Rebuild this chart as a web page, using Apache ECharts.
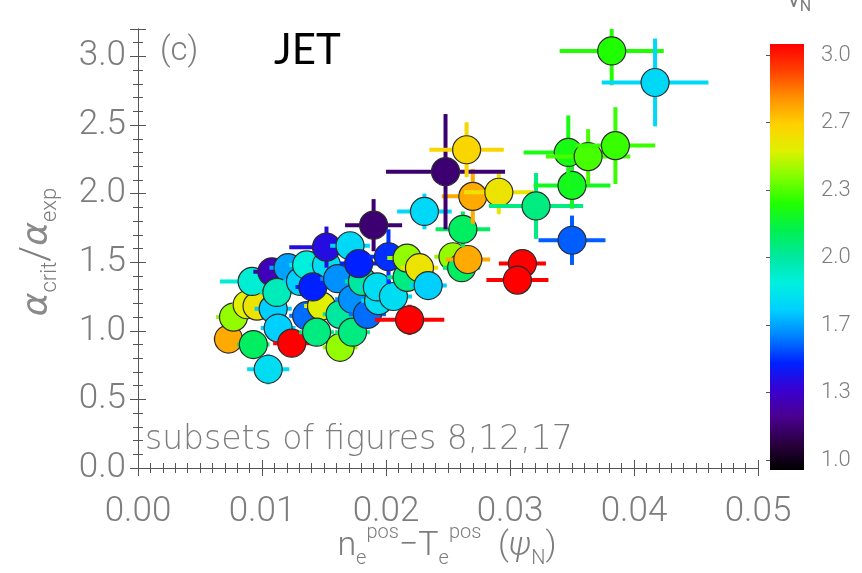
<!DOCTYPE html>
<html>
<head>
<meta charset="utf-8">
<script src="https://cdn.jsdelivr.net/npm/echarts@6/dist/echarts.min.js"></script>
<style>
  html, body { margin: 0; padding: 0; background: #fff; }
  #chart { width: 862px; height: 573px; }
</style>
</head>
<body>
<div id="chart"></div>
<script>
// n_e^pos - T_e^pos (psi_N) vs alpha_crit/alpha_exp, colour = nu*_N
const posDiff = [
  0.0105, 0.0073, 0.0077, 0.0088, 0.0096, 0.0092, 0.0108, 0.0093, 0.0109, 0.0121,
  0.0112, 0.0113, 0.0124, 0.0131, 0.0136, 0.0136, 0.0148, 0.0144, 0.0152, 0.0152,
  0.0141, 0.0171, 0.0161, 0.0163, 0.0163, 0.0173, 0.0173, 0.0185, 0.0181, 0.0178,
  0.0190, 0.0194, 0.0193, 0.0206, 0.0202, 0.0217, 0.0217, 0.0227, 0.0219, 0.0234,
  0.0231, 0.0254, 0.0261, 0.0266, 0.0262, 0.0270, 0.0291, 0.0248, 0.0265, 0.0321,
  0.0310, 0.0306, 0.0350, 0.0350, 0.0347, 0.0363, 0.0385, 0.0382, 0.0417
];
const alphaRatio = [
  0.72, 0.94, 1.10, 1.19, 1.18, 1.36, 1.43, 0.90, 1.16, 1.46,
  1.28, 1.02, 0.91, 1.36, 1.48, 1.11, 1.18, 0.99, 1.48, 1.61,
  1.32, 1.62, 1.38, 1.12, 0.88, 1.23, 0.99, 1.12, 1.36, 1.49,
  1.77, 1.22, 1.32, 1.25, 1.54, 1.39, 1.53, 1.46, 1.08, 1.33,
  1.87, 1.54, 1.46, 1.52, 1.74, 1.98, 2.01, 2.16, 2.32, 1.91,
  1.49, 1.37, 1.66, 2.06, 2.30, 2.27, 2.35, 3.04, 2.81
];
const nuN = [
  1.80, 2.70, 2.40, 2.50, 2.55, 1.90, 1.33, 2.10, 1.75, 1.68,
  1.95, 1.75, 3.00, 1.75, 1.88, 1.60, 2.50, 2.05, 1.80, 1.42,
  1.50, 1.78, 1.65, 2.00, 2.40, 1.65, 2.05, 1.60, 2.00, 1.50,
  1.20, 1.80, 1.80, 1.80, 1.52, 2.05, 2.40, 2.55, 3.00, 1.75,
  1.78, 2.40, 2.10, 2.70, 2.10, 2.70, 2.55, 1.20, 2.60, 2.05,
  3.00, 3.00, 1.58, 2.20, 2.22, 2.30, 2.28, 2.25, 1.78
];
const posDiffErr = [
  0.0017, 0.0012, 0.0014, 0.0012, 0.0012, 0.0026, 0.0015, 0.0013, 0.0015, 0.0015,
  0.0014, 0.0014, 0.0015, 0.0014, 0.0014, 0.0014, 0.0014, 0.0014, 0.0014, 0.0030,
  0.0014, 0.0016, 0.0014, 0.0014, 0.0014, 0.0014, 0.0014, 0.0015, 0.0014, 0.0015,
  0.0023, 0.0014, 0.0014, 0.0015, 0.0016, 0.0016, 0.0016, 0.0015, 0.0028, 0.0015,
  0.0022, 0.0015, 0.0015, 0.0018, 0.0022, 0.0025, 0.0028, 0.0048, 0.0030, 0.0038,
  0.0019, 0.0025, 0.0027, 0.0031, 0.0036, 0.0034, 0.0032, 0.0042, 0.0043
];
const alphaErr = [
  0.11, 0.07, 0.08, 0.07, 0.07, 0.08, 0.10, 0.07, 0.08, 0.08,
  0.08, 0.08, 0.06, 0.08, 0.08, 0.08, 0.07, 0.07, 0.08, 0.15,
  0.08, 0.09, 0.08, 0.07, 0.06, 0.08, 0.07, 0.08, 0.08, 0.09,
  0.19, 0.07, 0.08, 0.08, 0.20, 0.08, 0.10, 0.09, 0.11, 0.08,
  0.13, 0.10, 0.09, 0.10, 0.13, 0.20, 0.16, 0.42, 0.20, 0.24,
  0.09, 0.07, 0.18, 0.17, 0.27, 0.20, 0.28, 0.25, 0.32
];

// rainbow colour table, evenly spaced from nu = 1.0 to 3.0
const cmap = [
  '#000000', '#2a0040', '#4a0090', '#3a00d0', '#0020ff', '#0080ff',
  '#00d0ff', '#00f0e0', '#00e8a0', '#00f050', '#20ff00', '#80ff00',
  '#e0f000', '#ffd000', '#ff9000', '#ff4000', '#ff0000'
];
const nuRange = [1, 3];

const gray = '#7d7d7d';
const lightFont = 'Roboto';

const points = posDiff.map((x, i) => [x, alphaRatio[i], nuN[i], posDiffErr[i], alphaErr[i]]);

const chart = echarts.init(document.getElementById('chart'));

const frameColor = '#555';
const tick = () => ({ inside: true, length: 8, lineStyle: { color: frameColor, width: 1 } });
const minor = n => ({ show: true, splitNumber: n, length: 5, lineStyle: { color: frameColor, width: 1 } });
const axisLine = () => ({ show: true, lineStyle: { color: frameColor, width: 1 } });

const option = {
  backgroundColor: '#fff',
  animation: false,
  grid: [
    { left: 138, right: 104, top: 29, bottom: 105 },
    { left: 770, width: 34, top: 55, bottom: 113 }
  ],
  xAxis: [
    {
      gridIndex: 0, type: 'value', min: 0, max: 0.05, interval: 0.01, position: 'bottom',
      axisLine: axisLine(), axisTick: tick(), minorTick: minor(10),
      splitLine: { show: false },
      axisLabel: {
        margin: 27, color: gray, fontSize: 35, fontFamily: lightFont, fontWeight: 300,
        formatter: v => v.toFixed(2)
      }
    },
    {
      gridIndex: 0, type: 'value', min: 0, max: 0.05, interval: 0.01, position: 'top',
      axisLine: axisLine(), axisTick: tick(), minorTick: minor(10),
      splitLine: { show: false }, axisLabel: { show: false }
    },
    { gridIndex: 1, type: 'value', min: 0, max: 1, show: false }
  ],
  yAxis: [
    {
      gridIndex: 0, type: 'value', min: 0, max: 3.2, interval: 0.5, position: 'left',
      axisLine: axisLine(), axisTick: tick(), minorTick: minor(5),
      splitLine: { show: false },
      axisLabel: {
        margin: 12, color: gray, fontSize: 35, fontFamily: lightFont, fontWeight: 300,
        formatter: v => v.toFixed(1)
      }
    },
    {
      gridIndex: 0, type: 'value', min: 0, max: 3.2, interval: 0.5, position: 'right',
      axisLine: axisLine(), axisTick: tick(), minorTick: minor(5),
      splitLine: { show: false }, axisLabel: { show: false }
    },
    {
      gridIndex: 1, type: 'value', min: nuRange[0], max: nuRange[1], interval: 1 / 3,
      position: 'right',
      axisLine: { show: false },
      axisTick: { inside: true, length: 4, lineStyle: { color: frameColor } },
      splitLine: { show: false },
      axisLabel: {
        margin: 17, color: gray, fontSize: 22, fontFamily: lightFont, fontWeight: 300,
        formatter: v => v.toFixed(1)
      }
    }
  ],
  visualMap: {
    show: false,
    type: 'continuous',
    seriesIndex: 0,
    dimension: 2,
    min: nuRange[0],
    max: nuRange[1],
    inRange: { color: cmap }
  },
  series: [
    {
      type: 'custom',
      xAxisIndex: 0,
      yAxisIndex: 0,
      clip: true,
      data: points,
      encode: { x: 0, y: 1 },
      renderItem: (params, api) => {
        const x = api.value(0), y = api.value(1);
        const ex = api.value(3), ey = api.value(4);
        const c = api.coord([x, y]);
        const l = api.coord([x - ex, y]);
        const r = api.coord([x + ex, y]);
        const t = api.coord([x, y + ey]);
        const b = api.coord([x, y - ey]);
        const col = api.visual('color');
        return {
          type: 'group',
          children: [
            { type: 'line', shape: { x1: l[0], y1: l[1], x2: r[0], y2: r[1] }, style: { stroke: col, lineWidth: 4 } },
            { type: 'line', shape: { x1: t[0], y1: t[1], x2: b[0], y2: b[1] }, style: { stroke: col, lineWidth: 4 } },
            { type: 'circle', shape: { cx: c[0], cy: c[1], r: 14 }, style: { fill: col, stroke: '#2b2b2b', lineWidth: 1.2 } }
          ]
        };
      }
    },
    {
      // colour bar
      type: 'custom',
      xAxisIndex: 2,
      yAxisIndex: 2,
      silent: true,
      data: [[0, nuRange[0], nuRange[1]]],
      renderItem: (params, api) => {
        const top = api.coord([0, api.value(2)]);
        const bot = api.coord([0, api.value(1)]);
        const right = api.coord([1, api.value(2)]);
        return {
          type: 'rect',
          shape: { x: top[0], y: top[1] - 11, width: right[0] - top[0], height: bot[1] - top[1] + 21 },
          style: {
            fill: new echarts.graphic.LinearGradient(0, 1, 0, 0,
              cmap.map((c, i) => ({ offset: i / (cmap.length - 1), color: c })))
          }
        };
      }
    }
  ],
  graphic: [
    {
      type: 'text', x: 160, y: 52,
      style: { text: '(c)', fill: gray, fontSize: 33, fontFamily: lightFont, fontWeight: 300, verticalAlign: 'middle' }
    },
    {
      type: 'text', x: 274, y: 50,
      style: { text: 'JET', fill: '#000', fontSize: 42, fontFamily: 'Lato', verticalAlign: 'middle' }
    },
    {
      type: 'text', x: 145, y: 440,
      style: { text: 'subsets of figures 8,12,17', fill: gray, fontSize: 33, fontFamily: 'DejaVu Sans', fontWeight: 200, verticalAlign: 'middle' }
    },
    {
      type: 'text', x: 788, y: 1,
      style: {
        text: '{g|ν}{s|N}', verticalAlign: 'middle', fill: gray,
        rich: {
          g: { fontSize: 24, fontFamily: lightFont, fill: gray, verticalAlign: 'middle', lineHeight: 28 },
          s: { fontSize: 16, fontFamily: lightFont, fill: gray, verticalAlign: 'bottom', lineHeight: 16 }
        }
      }
    },
    {
      type: 'text', x: 447, y: 546,
      style: {
        text: '{m|n}{sb|e}{sp|pos}{m|−T}{sb|e}{sp|pos}{m|  (}{g|ψ}{sb|N}{m|)}',
        align: 'center', verticalAlign: 'middle',
        rich: {
          m: { fontSize: 34, fontFamily: lightFont, fontWeight: 300, fill: gray, lineHeight: 46, verticalAlign: 'middle' },
          g: { fontSize: 34, fontFamily: lightFont, fontStyle: 'italic', fontWeight: 300, fill: gray, lineHeight: 46, verticalAlign: 'middle' },
          sb: { fontSize: 20, fontFamily: lightFont, fontWeight: 300, fill: gray, lineHeight: 20, verticalAlign: 'bottom' },
          sp: { fontSize: 20, fontFamily: lightFont, fontWeight: 300, fill: gray, lineHeight: 20, verticalAlign: 'top' }
        }
      }
    },
    {
      type: 'text', x: 38, y: 252, rotation: Math.PI / 2,
      style: {
        text: '{a|α}{s|crit}{m|/}{a|α}{s|exp}',
        align: 'center', verticalAlign: 'middle',
        rich: {
          a: { fontSize: 36, fontFamily: 'DejaVu Sans', fontStyle: 'italic', fontWeight: 200, fill: '#8a8a8a', lineHeight: 46, verticalAlign: 'middle' },
          m: { fontSize: 40, fontFamily: lightFont, fontWeight: 300, fill: gray, lineHeight: 46, verticalAlign: 'middle' },
          s: { fontSize: 22, fontFamily: lightFont, fontWeight: 300, fill: gray, lineHeight: 22, verticalAlign: 'bottom' }
        }
      }
    }
  ]
};

chart.setOption(option);
window.addEventListener('resize', () => chart.resize());
</script>
</body>
</html>
